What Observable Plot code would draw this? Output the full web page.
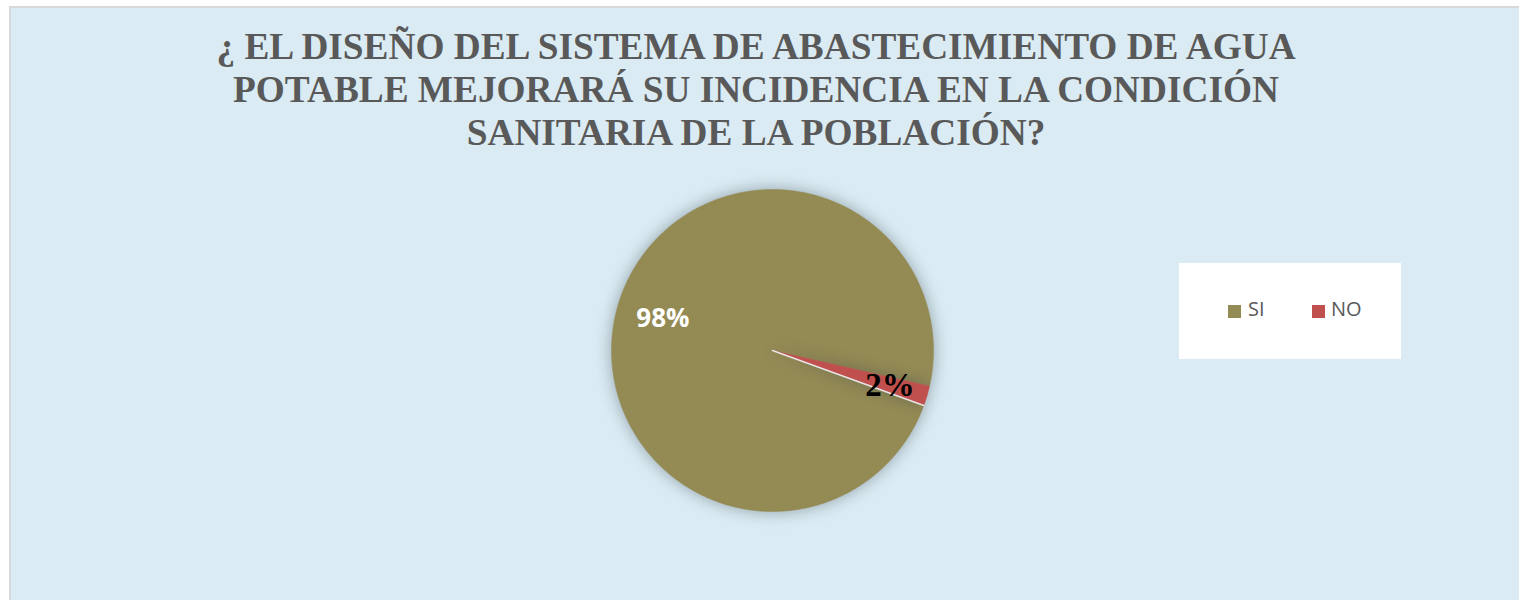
<!DOCTYPE html>
<html>
<head>
<meta charset="utf-8">
<script src="https://cdn.jsdelivr.net/npm/d3@7"></script>
<script src="https://cdn.jsdelivr.net/npm/@observablehq/plot@0.6"></script>
<style>
  html, body { margin: 0; padding: 0; background: #ffffff; width: 1519px; height: 600px; overflow: hidden; }
  .frame { position: absolute; left: 9px; top: 6px; width: 1515px; height: 600px; background: #DAEBF3;
           border-left: 2px solid #D9D9D9; border-top: 2px solid #D9D9D9; }
  .title { width: 1490px; height: 165px; box-sizing: border-box; padding-top: 17px; text-align: center;
           font-family: "Liberation Serif", "Times New Roman", serif; font-weight: bold; font-size: 37.3px;
           line-height: 43px; color: #595959; }
  .legend { position: absolute; left: 1168px; top: 255px; width: 222px; height: 96px; background: #ffffff;
            font-family: "Open Sans", sans-serif; font-size: 20px; color: #595959; }
  .legend .sw { position: absolute; width: 13px; height: 13px; top: 42px; }
  .legend .lb { position: absolute; top: 36px; line-height: 20px; }
  #chart { position: absolute; left: 0; top: 165px; }
</style>
</head>
<body>
<div class="frame">
  <div class="title" id="title"></div>
  <div id="chart"></div>
  <div class="legend" id="legend"></div>
</div>
<script>
const titleLines = ["¿ EL DISEÑO DEL SISTEMA DE ABASTECIMIENTO DE AGUA",
                    "POTABLE MEJORARÁ SU INCIDENCIA EN LA CONDICIÓN",
                    "SANITARIA DE LA POBLACIÓN?"];
const categories = ["SI", "NO"];
const values = [98, 2];
const labels = ["98%", "2%"];
const colors = ["#948A54", "#C0504D"];
const firstSliceAngle = 110; // degrees, clockwise from north

document.getElementById("title").innerHTML = titleLines.join("<br>");

// legend
const leg = document.getElementById("legend");
const legPos = [{sq: 49, tx: 69}, {sq: 133, tx: 152}];
categories.forEach((c, i) => {
  const s = document.createElement("div"); s.className = "sw";
  s.style.left = legPos[i].sq + "px"; s.style.background = colors[i]; leg.appendChild(s);
  const t = document.createElement("div"); t.className = "lb";
  t.style.left = legPos[i].tx + "px"; t.textContent = c; leg.appendChild(t);
});

const data = categories.map((c, i) => ({name: c, value: values[i], label: labels[i], color: colors[i]}));
const start = firstSliceAngle * Math.PI / 180;
const arcs = d3.pie().value(d => d.value).sort(null).startAngle(start).endAngle(start + 2 * Math.PI)(data);

const pts = [];
arcs.forEach(a => {
  pts.push({name: a.data.name, x: 0, y: 0});
  const n = Math.max(4, Math.ceil((a.endAngle - a.startAngle) / 0.01));
  for (let k = 0; k <= n; k++) {
    const t = a.startAngle + (a.endAngle - a.startAngle) * k / n;
    pts.push({name: a.data.name, x: Math.sin(t), y: Math.cos(t)});
  }
  pts.push({name: a.data.name, x: 0, y: 0});
});
const labelR = [0.71, 0.76];
const lab = arcs.map((a, i) => {
  const m = (a.startAngle + a.endAngle) / 2;
  return {x: labelR[i] * Math.sin(m), y: labelR[i] * Math.cos(m), label: a.data.label, name: a.data.name};
});
const edge = [{x: 0, y: 0}, {x: Math.sin(start), y: Math.cos(start)}];

const W = 1508, H = 435, cx = 761, cy = 177, R = 161;
const plot = Plot.plot({
  width: W, height: H, margin: 0,
  x: {domain: [-cx / R, (W - cx) / R], axis: null},
  y: {domain: [-(H - cy) / R, cy / R], axis: null},
  style: {background: "transparent", overflow: "visible"},
  marks: [
    Plot.line(pts.filter(d => d.name === "SI"), {x: "x", y: "y", fill: colors[0], stroke: colors[0], strokeWidth: 0.5}),
    Plot.line(pts.filter(d => d.name === "NO"), {x: "x", y: "y", fill: colors[1], stroke: colors[1], strokeWidth: 0.5}),
    Plot.line(edge, {x: "x", y: "y", stroke: "#e6e6e6", strokeWidth: 1.5}),
    Plot.text(lab.filter(d => d.name === "SI"), {x: "x", y: "y", text: "label", fill: "#ffffff",
      fontFamily: "Open Sans, sans-serif", fontWeight: "bold", fontSize: 26}),
    Plot.text(lab.filter(d => d.name === "NO"), {x: "x", y: "y", text: "label", fill: "#000000",
      fontFamily: "Liberation Serif, serif", fontWeight: "bold", fontSize: 33})
  ]
});
document.getElementById("chart").appendChild(plot);
const lineGroups = plot.querySelectorAll('g[aria-label="line"]');
[lineGroups[0], lineGroups[1]].forEach(g => { if (g) g.style.filter = "drop-shadow(0px 0px 8px rgba(60,70,80,0.45))"; });
</script>
</body>
</html>
